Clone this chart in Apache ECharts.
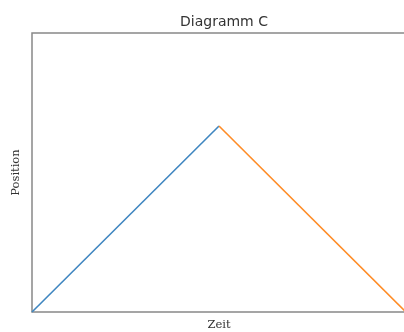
<!DOCTYPE html>
<html>
<head>
<meta charset="utf-8">
<script src="https://cdn.jsdelivr.net/npm/echarts@6/dist/echarts.min.js"></script>
<style>
  html, body { margin: 0; padding: 0; background: #fff; }
  #chart { width: 404px; height: 332px; }
</style>
</head>
<body>
<div id="chart"></div>
<script>
// Daten: Hinweg und Rückweg
const hinweg = [[0, 0], [5, 5]]
const rueckweg = [[5, 5], [10, 0]]
const xRange = [0, 10]
const yRange = [0, 7.5]

const myChart = echarts.init(document.getElementById('chart'))

const option = {
  animation: false,
  title: {
    text: 'Diagramm C',
    left: 219,
    textAlign: 'center',
    top: 10,
    textStyle: { fontFamily: 'DejaVu Sans', fontSize: 14, fontWeight: 'normal', color: '#333' }
  },
  grid: {
    left: 32, top: 33, right: -2, bottom: 20,
    outerBoundsMode: 'none', containLabel: false,
    show: true, borderColor: '#888', borderWidth: 1.5, backgroundColor: '#fff'
  },
  xAxis: {
    type: 'value', min: xRange[0], max: xRange[1],
    name: 'Zeit', nameLocation: 'middle', nameGap: 7,
    nameTextStyle: { fontFamily: 'DejaVu Serif', fontSize: 11.5, color: '#333' },
    axisLine: { show: false }, axisTick: { show: false },
    axisLabel: { show: false }, splitLine: { show: false }
  },
  yAxis: {
    type: 'value', min: yRange[0], max: yRange[1],
    name: 'Position', nameLocation: 'middle', nameGap: 10, nameRotate: 90,
    nameTextStyle: { fontFamily: 'DejaVu Serif', fontSize: 11.5, color: '#333' },
    axisLine: { show: false }, axisTick: { show: false },
    axisLabel: { show: false }, splitLine: { show: false }
  },
  series: [
    {
      type: 'line', data: hinweg, symbol: 'none',
      lineStyle: { color: '#3f86c0', width: 1.6 }
    },
    {
      type: 'line', data: rueckweg, symbol: 'none',
      lineStyle: { color: '#ff8c26', width: 1.6 }
    }
  ]
}
option && myChart.setOption(option)
</script>
</body>
</html>
